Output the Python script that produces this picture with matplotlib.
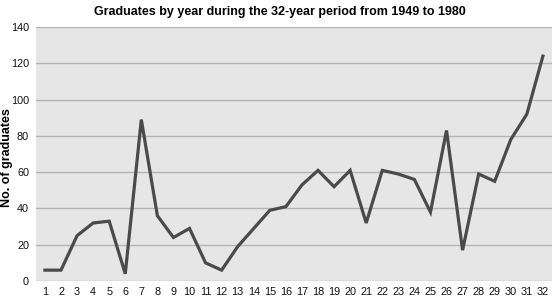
import matplotlib
matplotlib.use("Agg")
import matplotlib.pyplot as plt

years = list(range(1, 33))
graduates = [6, 6, 25, 32, 33, 4, 89, 36, 24, 29, 10, 6, 19, 29, 39, 41,
             53, 61, 52, 61, 32, 61, 59, 56, 38, 83, 17, 59, 55, 78, 92, 124]
y_ticks = [0, 20, 40, 60, 80, 100, 120, 140]

plt.rcParams['font.family'] = ['Liberation Sans', 'DejaVu Sans']

fig = plt.figure(figsize=(5.53, 2.98), dpi=100)
ax = fig.add_axes([0.065, 0.057, 0.933, 0.852])
ax.set_facecolor('#e6e6e6')

ax.plot(years, graduates, color='#4a4a4a', linewidth=2.3, solid_joinstyle='miter', zorder=3)

ax.set_xlim(0.44, 32.56)
ax.set_ylim(0, 140)
ax.set_yticks(y_ticks)
ax.set_xticks(years)
ax.grid(axis='y', color='#b4b4b4', linewidth=1.0)
ax.set_axisbelow(True)
for s in ax.spines.values():
    s.set_visible(False)
ax.tick_params(axis='y', length=0, labelsize=7.8, colors='#111111', pad=5)
ax.tick_params(axis='x', length=0, labelsize=7.8, colors='#111111', pad=4)

ax.set_ylabel('No. of graduates', fontsize=9, fontweight='bold')
# ylabel x is the right edge of the rotated text
ax.yaxis.set_label_coords(-0.044, 0.488)
ax.set_title('Graduates by year during the 32-year period from 1949 to 1980',
             fontsize=9, fontweight='bold', pad=9, x=0.473)

plt.savefig('out.png', dpi=100)
